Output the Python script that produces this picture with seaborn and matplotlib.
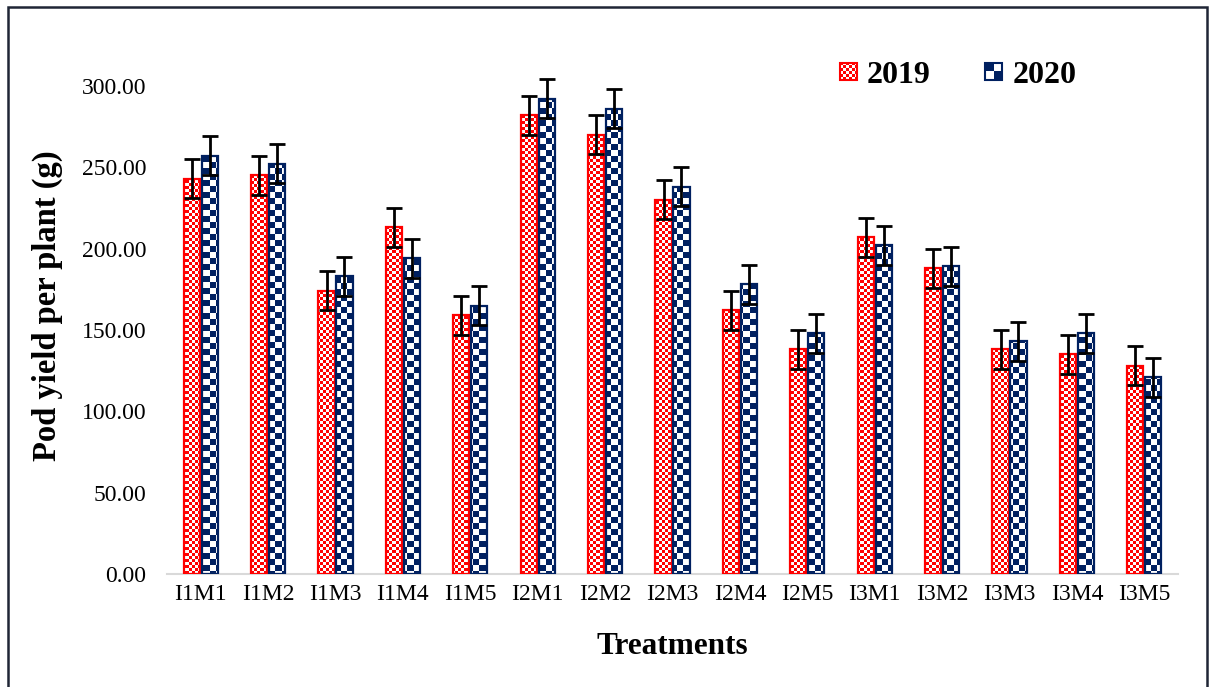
import numpy as np
import pandas as pd
import matplotlib
matplotlib.use("Agg")
import matplotlib.pyplot as plt
import seaborn as sns
from matplotlib.patches import Rectangle
from matplotlib.legend_handler import HandlerBase
from matplotlib.image import BboxImage
from matplotlib.transforms import Bbox, TransformedBbox

treatments = ["I1M1", "I1M2", "I1M3", "I1M4", "I1M5",
              "I2M1", "I2M2", "I2M3", "I2M4", "I2M5",
              "I3M1", "I3M2", "I3M3", "I3M4", "I3M5"]
y2019 = [243, 245, 174, 213, 159, 282, 270, 230, 162, 138, 207, 188, 138, 135, 128]
y2020 = [257, 252, 183, 194, 165, 292, 286, 238, 178, 148, 202, 189, 143, 148, 121]
err2019 = [12] * 15
err2020 = [12] * 15
years = ["2019", "2020"]

RED = "#ff0000"
NAVY = "#002060"

df = pd.DataFrame({
    "Treatment": treatments * 2,
    "Year": ["2019"] * 15 + ["2020"] * 15,
    "Value": y2019 + y2020,
})

sns.set_theme(style="white")
plt.rcParams["font.family"] = ["Liberation Serif", "DejaVu Serif"]
plt.rcParams["text.color"] = "black"
plt.rcParams["axes.labelcolor"] = "black"
plt.rcParams["xtick.color"] = "black"
plt.rcParams["ytick.color"] = "black"

W, H, DPI = 1209, 687, 100
fig = plt.figure(figsize=(W / DPI, H / DPI), dpi=DPI)
ax_l, ax_b, ax_w, ax_h = 167, 113, 1011, 537
ax = fig.add_axes([ax_l / W, ax_b / H, ax_w / W, ax_h / H])

sns.barplot(data=df, x="Treatment", y="Value", hue="Year", hue_order=years,
            order=treatments, palette=[RED, NAVY], width=0.534, gap=0.11,
            errorbar=None, ax=ax, legend=False)

ax.set_ylim(0, 330)
ax.set_xlim(-0.5, len(treatments) - 0.5)


def checker(nx, ny, cell, color):
    cx = np.arange(nx) // cell
    cy = np.arange(ny) // cell
    mask = (cx[None, :] + cy[:, None]) % 2 == 0
    rgb = np.array(matplotlib.colors.to_rgb(color))
    img = np.ones((ny, nx, 3))
    img[mask] = rgb
    return img


tex = {"2019": checker(ax_w, ax_h, 3, RED), "2020": checker(ax_w, ax_h, 6, NAVY)}
edge = {"2019": RED, "2020": NAVY}
errs = {"2019": err2019, "2020": err2020}
vals = {"2019": y2019, "2020": y2020}

for cont, yr in zip(ax.containers, years):
    xs = []
    for patch in cont.patches:
        patch.set_facecolor("none")
        patch.set_edgecolor(edge[yr])
        patch.set_linewidth(1.6)
        patch.set_zorder(3)
        im = ax.imshow(tex[yr], extent=(-0.5, len(treatments) - 0.5, 0, 330),
                       origin="upper", interpolation="nearest", aspect="auto", zorder=2)
        im.set_clip_path(patch)
        xs.append(patch.get_x() + patch.get_width() / 2)
    ax.errorbar(xs, vals[yr], yerr=errs[yr], fmt="none", ecolor="black",
                elinewidth=2, capsize=6, capthick=2, zorder=5)

ax.set_xlim(-0.5, len(treatments) - 0.5)
ax.set_ylim(0, 330)
ax.set_yticks(np.arange(0, 301, 50))
ax.set_yticklabels([f"{v:.2f}" for v in np.arange(0, 301, 50)])
ax.tick_params(axis="y", length=0, pad=15, labelsize=17, labelcolor="black")
ax.tick_params(axis="x", length=0, pad=7, labelsize=17, labelcolor="black")
for s in ["top", "right", "left"]:
    ax.spines[s].set_visible(False)
ax.spines["bottom"].set_color("#d9d9d9")
ax.spines["bottom"].set_linewidth(1.5)
ax.set_xlabel("Treatments", fontsize=22.5, fontweight="bold", labelpad=20, color="black")
ax.set_ylabel("Pod yield per plant (g)", fontsize=23.5, fontweight="bold", labelpad=13,
              color="black")


class CheckerHandler(HandlerBase):
    def __init__(self, color, cell):
        super().__init__()
        self.color = color
        self.cell = cell

    def create_artists(self, legend, orig_handle, xdescent, ydescent,
                       width, height, fontsize, trans):
        s = height * 0.95
        x0, y0 = -xdescent, -ydescent + (height - s) / 2
        bb = TransformedBbox(Bbox.from_bounds(x0, y0, s, s), trans)
        img = BboxImage(bb, interpolation="nearest")
        img.set_data(checker(12, 12, self.cell, self.color))
        rect = Rectangle((x0, y0), s, s, facecolor="none",
                         edgecolor=self.color, linewidth=1.5, transform=trans)
        return [img, rect]


h19 = Rectangle((0, 0), 1, 1)
h20 = Rectangle((0, 0), 1, 1)
leg = ax.legend([h19, h20], years, loc="center left", bbox_to_anchor=(0.637, 0.929),
                ncol=2, frameon=False, handlelength=0.5, handleheight=0.5,
                handletextpad=0.35, columnspacing=1.7,
                prop={"size": 23, "weight": "bold"},
                handler_map={h19: CheckerHandler(RED, 2), h20: CheckerHandler(NAVY, 6)})
for t in leg.get_texts():
    t.set_color("black")

fig.patches.append(Rectangle((8 / W, -0.02), 1199 / W, 1.02 - 7 / H, transform=fig.transFigure,
                             fill=False, edgecolor="#1f2535", linewidth=1.8))

fig.savefig("out.png", dpi=DPI)
